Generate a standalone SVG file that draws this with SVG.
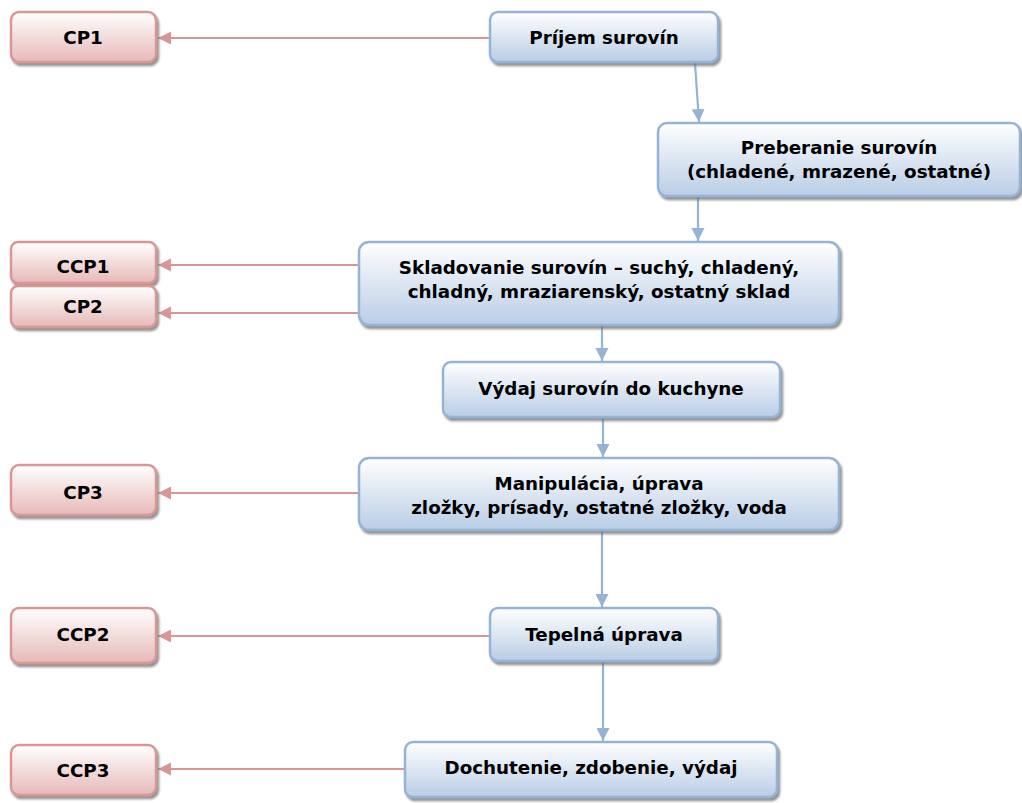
<svg xmlns="http://www.w3.org/2000/svg" width="1022" height="803" viewBox="0 0 1022 803">
  <style>
    .step rect { fill: url(#gBlue); stroke: #95b3d7; stroke-width: 2.5; filter: url(#shadow); }
    .cp rect { fill: url(#gRed); stroke: #d99694; stroke-width: 2.5; filter: url(#shadow); }
    text { font-family: "DejaVu Sans", Verdana, sans-serif; font-weight: bold; font-size: 18.3px; fill: #000; text-anchor: middle; }
    .flow { stroke: #95b3d7; stroke-width: 2.2; fill: none; marker-end: url(#arrBlue); }
    .link { stroke: #d99694; stroke-width: 2.2; fill: none; marker-end: url(#arrRed); }
  </style>
  <defs>
    <linearGradient id="gBlue" x1="0" y1="0" x2="0" y2="1">
      <stop offset="0" stop-color="#ffffff"/>
      <stop offset="1" stop-color="#b9cde5"/>
    </linearGradient>
    <linearGradient id="gRed" x1="0" y1="0" x2="0" y2="1">
      <stop offset="0" stop-color="#ffffff"/>
      <stop offset="1" stop-color="#e6b9b8"/>
    </linearGradient>
    <filter id="shadow" x="-5%" y="-10%" width="115%" height="130%">
      <feDropShadow dx="2" dy="3" stdDeviation="0.8" flood-color="#6f6f6f" flood-opacity="0.75"/>
    </filter>
    <marker id="arrBlue" markerUnits="userSpaceOnUse" markerWidth="14" markerHeight="14" refX="13" refY="6.5" orient="auto">
      <path d="M0,0 L13,6.5 L0,13 z" fill="#95b3d7"/>
    </marker>
    <marker id="arrRed" markerUnits="userSpaceOnUse" markerWidth="14" markerHeight="14" refX="13" refY="6.5" orient="auto">
      <path d="M0,0 L13,6.5 L0,13 z" fill="#d99694"/>
    </marker>
  </defs>

  <rect width="1022" height="803" fill="#ffffff"/>

  <!-- connectors -->
  <g id="connectors">
    <path class="flow" d="M695,63 L699,122"/>
    <path class="flow" d="M698,197 L698,241"/>
    <path class="flow" d="M602,326 L602,361"/>
    <path class="flow" d="M603,418 L603,457"/>
    <path class="flow" d="M602,531 L602,607"/>
    <path class="flow" d="M603,662 L603,741"/>
    <path class="link" d="M490,38 L158,38"/>
    <path class="link" d="M359,265 L158,265"/>
    <path class="link" d="M359,313 L158,313"/>
    <path class="link" d="M359,493 L158,493"/>
    <path class="link" d="M490,636 L158,636"/>
    <path class="link" d="M405,769 L158,769"/>
  </g>

  <!-- process steps -->
  <g id="prijem" class="step">
    <rect x="490" y="12" width="228" height="50" rx="8"/>
    <text x="604" y="44">Príjem surovín</text>
  </g>
  <g id="preberanie" class="step">
    <rect x="658" y="123" width="362" height="73" rx="9"/>
    <text x="839" y="154">Preberanie surovín</text>
    <text x="839" y="178">(chladené, mrazené, ostatné)</text>
  </g>
  <g id="skladovanie" class="step">
    <rect x="359" y="242" width="480" height="83" rx="10"/>
    <text x="599" y="274">Skladovanie surovín – suchý, chladený,</text>
    <text x="599" y="298">chladný, mraziarenský, ostatný sklad</text>
  </g>
  <g id="vydaj" class="step">
    <rect x="443" y="362" width="337" height="55" rx="8"/>
    <text x="611" y="395">Výdaj surovín do kuchyne</text>
  </g>
  <g id="manipulacia" class="step">
    <rect x="359" y="458" width="480" height="72" rx="10"/>
    <text x="599" y="490">Manipulácia, úprava</text>
    <text x="599" y="514">zložky, prísady, ostatné zložky, voda</text>
  </g>
  <g id="tepelna" class="step">
    <rect x="490" y="608" width="228" height="53" rx="8"/>
    <text x="604" y="641">Tepelná úprava</text>
  </g>
  <g id="dochutenie" class="step">
    <rect x="405" y="742" width="372" height="55" rx="8"/>
    <text x="591" y="774">Dochutenie, zdobenie, výdaj</text>
  </g>

  <!-- control points -->
  <g id="cp1" class="cp">
    <rect x="11" y="12" width="145" height="50" rx="8"/>
    <text x="83" y="44">CP1</text>
  </g>
  <g id="ccp1" class="cp">
    <rect x="11" y="242" width="145" height="41" rx="7"/>
    <text x="83" y="273">CCP1</text>
  </g>
  <g id="cp2" class="cp">
    <rect x="11" y="286" width="145" height="41" rx="7"/>
    <text x="83" y="313">CP2</text>
  </g>
  <g id="cp3" class="cp">
    <rect x="11" y="465" width="145" height="50" rx="8"/>
    <text x="83" y="499">CP3</text>
  </g>
  <g id="ccp2" class="cp">
    <rect x="11" y="608" width="145" height="55" rx="8"/>
    <text x="83" y="641">CCP2</text>
  </g>
  <g id="ccp3" class="cp">
    <rect x="11" y="745" width="145" height="50" rx="8"/>
    <text x="83" y="777">CCP3</text>
  </g>
</svg>
